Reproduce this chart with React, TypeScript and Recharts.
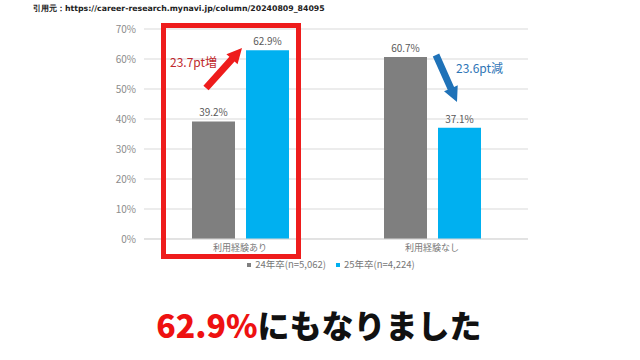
import { BarChart, Bar, XAxis, YAxis, CartesianGrid, Legend, LabelList } from "recharts";

// 利用経験あり/なし × 24年卒/25年卒
const CATEGORIES = ["利用経験あり", "利用経験なし"];
const GRAD24 = [39.2, 60.7];
const GRAD25 = [62.9, 37.1];
const Y_TICKS = [0, 10, 20, 30, 40, 50, 60, 70];

const SERIES_24 = "24年卒(n=5,062)";
const SERIES_25 = "25年卒(n=4,224)";

const data = CATEGORIES.map((name, i) => ({ name, g24: GRAD24[i], g25: GRAD25[i] }));

const GRAY = "#7f7f7f";
const BLUE = "#00b0f0";
const FONT = "'Noto Sans CJK JP', 'Noto Sans', sans-serif";

function Arrow({ x1, y1, x2, y2, color, w, head }: { x1: number; y1: number; x2: number; y2: number; color: string; w: number; head: number }) {
  const dx = x2 - x1;
  const dy = y2 - y1;
  const len = Math.hypot(dx, dy);
  const ux = dx / len;
  const uy = dy / len;
  const px = -uy;
  const py = ux;
  const bx = x2 - ux * head;
  const by = y2 - uy * head;
  const pts = [
    [x1 + px * w / 2, y1 + py * w / 2],
    [bx + px * w / 2, by + py * w / 2],
    [bx + px * head / 2, by + py * head / 2],
    [x2, y2],
    [bx - px * head / 2, by - py * head / 2],
    [bx - px * w / 2, by - py * w / 2],
    [x1 - px * w / 2, y1 - py * w / 2],
  ];
  return <polygon points={pts.map((p) => p.join(",")).join(" ")} fill={color} />;
}

export default function App() {
  return (
    <div style={{ position: "absolute", left: 0, top: 0, width: 640, height: 360, background: "#fff", fontFamily: FONT }}>
      <div
        style={{
          position: "absolute",
          left: 33,
          top: 3,
          fontSize: 7.8,
          fontWeight: 700,
          fontFamily: "'DejaVu Sans', sans-serif",
          color: "#222",
          whiteSpace: "nowrap",
        }}
      >
        引用元：https://career-research.mynavi.jp/column/20240809_84095
      </div>

      <div style={{ position: "absolute", left: 0, top: 0 }}>
        <BarChart
          width={640}
          height={280}
          data={data}
          margin={{ top: 29, right: 112, bottom: 9, left: 104 }}
          barSize={43}
          barGap={11}
        >
          <CartesianGrid vertical={false} stroke="#d9d9d9" />
          <XAxis
            dataKey="name"
            axisLine={{ stroke: "#d9d9d9" }}
            tickLine={false}
            tick={{ fontSize: 9, fill: "#777", fontFamily: FONT }}
            height={18}
            tickMargin={0}
          />
          <YAxis
            domain={[0, 70]}
            ticks={Y_TICKS}
            width={40}
            axisLine={false}
            tickLine={false}
            tickFormatter={(v) => `${v}%`}
            tick={{ fontSize: 10, fill: "#8c8c8c", fontFamily: FONT }}
          />
          <Legend
            verticalAlign="bottom"
            iconType="square"
            iconSize={4}
            wrapperStyle={{ fontSize: 9.5, color: "#777", fontFamily: FONT, paddingLeft: 20 }}
            formatter={(v) => <span style={{ color: "#777" }}>{v}</span>}
          />
          <Bar dataKey="g24" name={SERIES_24} fill={GRAY} isAnimationActive={false}>
            <LabelList dataKey="g24" position="top" formatter={(v) => `${v}%`} style={{ fontSize: 10, fill: "#595959" }} />
          </Bar>
          <Bar dataKey="g25" name={SERIES_25} fill={BLUE} isAnimationActive={false}>
            <LabelList dataKey="g25" position="top" formatter={(v) => `${v}%`} style={{ fontSize: 10, fill: "#595959" }} />
          </Bar>
        </BarChart>
      </div>

      <svg width={640} height={360} style={{ position: "absolute", left: 0, top: 0, pointerEvents: "none" }}>
        <rect x={163.5} y={25.5} width={135} height={231} fill="none" stroke="#ee1c1c" strokeWidth={5} />
        <Arrow x1={206} y1={88} x2={242} y2={48} color="#ee1c1c" w={7} head={15} />
        <Arrow x1={436} y1={55} x2={457} y2={102} color="#1f72b8" w={7} head={15} />
        <text x={170} y={67} fontSize={12} fill="#c0282d" fontFamily={FONT}>23.7pt増</text>
        <text x={456} y={73} fontSize={12} fill="#2e75b6" fontFamily={FONT}>23.6pt減</text>
      </svg>

      <div
        style={{
          position: "absolute",
          left: 0,
          width: 638,
          top: 304,
          textAlign: "center",
          fontSize: 32,
          fontWeight: 900,
          color: "#111",
          whiteSpace: "nowrap",
          lineHeight: "40px",
        }}
      >
        <span style={{ color: "#ee1111" }}>62.9%</span>にもなりました
      </div>
    </div>
  );
}
